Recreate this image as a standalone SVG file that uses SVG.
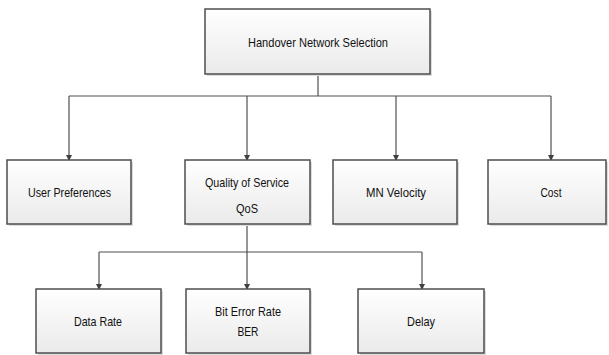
<svg xmlns="http://www.w3.org/2000/svg" width="609" height="355" viewBox="0 0 609 355">
  <style>
    .box { fill: url(#boxFill); stroke: #4d4d4d; stroke-width: 1.5; }
    .shadow { fill: #dcdcdc; }
    .lbl { font-family: "Liberation Sans", Arial, sans-serif; font-size: 13.5px; fill: #111; text-anchor: middle; }
    .wire { fill: none; stroke: #505050; stroke-width: 1.2; }
  </style>
  <defs>
    <linearGradient id="boxFill" x1="0" y1="0" x2="0" y2="1">
      <stop offset="0" stop-color="#ffffff"/>
      <stop offset="1" stop-color="#eaeaea"/>
    </linearGradient>
    <marker id="arrow" markerWidth="6" markerHeight="6" refX="5" refY="3" orient="auto" markerUnits="userSpaceOnUse">
      <path d="M0,0 L6,3 L0,6 Z" fill="#404040"/>
    </marker>
  </defs>

  <!-- connectors -->
  <g id="connectors">
    <path class="wire" d="M318,74 V96"/>
    <path class="wire" d="M69,96 H551"/>
    <path class="wire" d="M69,96 V160" marker-end="url(#arrow)"/>
    <path class="wire" d="M247,96 V160" marker-end="url(#arrow)"/>
    <path class="wire" d="M396,96 V160" marker-end="url(#arrow)"/>
    <path class="wire" d="M551,96 V160" marker-end="url(#arrow)"/>
    <path class="wire" d="M99,252 H422"/>
    <path class="wire" d="M247,224 V289" marker-end="url(#arrow)"/>
    <path class="wire" d="M99,252 V289" marker-end="url(#arrow)"/>
    <path class="wire" d="M422,252 V289" marker-end="url(#arrow)"/>
  </g>

  <g id="handover">
    <rect class="shadow" x="207" y="11" width="225" height="65"/>
    <rect class="box" x="205" y="9" width="225" height="65"/>
    <text class="lbl" x="318" y="47" textLength="140" lengthAdjust="spacingAndGlyphs">Handover Network Selection</text>
  </g>

  <g id="user-preferences">
    <rect class="shadow" x="9" y="162" width="124" height="64"/>
    <rect class="box" x="7" y="160" width="124" height="64"/>
    <text class="lbl" x="69.5" y="197" textLength="83" lengthAdjust="spacingAndGlyphs">User Preferences</text>
  </g>

  <g id="qos">
    <rect class="shadow" x="187" y="162" width="125" height="64"/>
    <rect class="box" x="185" y="160" width="125" height="64"/>
    <text class="lbl" x="247" y="187" textLength="84" lengthAdjust="spacingAndGlyphs">Quality of Service</text>
    <text class="lbl" x="247" y="213" textLength="22" lengthAdjust="spacingAndGlyphs">QoS</text>
  </g>

  <g id="mn-velocity">
    <rect class="shadow" x="335" y="162" width="124" height="64"/>
    <rect class="box" x="333" y="160" width="124" height="64"/>
    <text class="lbl" x="396" y="197" textLength="60" lengthAdjust="spacingAndGlyphs">MN Velocity</text>
  </g>

  <g id="cost">
    <rect class="shadow" x="490" y="162" width="118" height="64"/>
    <rect class="box" x="488" y="160" width="118" height="64"/>
    <text class="lbl" x="551" y="197" textLength="21" lengthAdjust="spacingAndGlyphs">Cost</text>
  </g>

  <g id="data-rate">
    <rect class="shadow" x="38" y="291" width="125" height="64"/>
    <rect class="box" x="36" y="289" width="125" height="64"/>
    <text class="lbl" x="98" y="326" textLength="48" lengthAdjust="spacingAndGlyphs">Data Rate</text>
  </g>

  <g id="ber">
    <rect class="shadow" x="188" y="291" width="124" height="64"/>
    <rect class="box" x="186" y="289" width="124" height="64"/>
    <text class="lbl" x="248" y="316" textLength="66" lengthAdjust="spacingAndGlyphs">Bit Error Rate</text>
    <text class="lbl" x="248" y="336" textLength="21" lengthAdjust="spacingAndGlyphs">BER</text>
  </g>

  <g id="delay">
    <rect class="shadow" x="360" y="291" width="126" height="64"/>
    <rect class="box" x="358" y="289" width="126" height="64"/>
    <text class="lbl" x="421" y="326" textLength="28" lengthAdjust="spacingAndGlyphs">Delay</text>
  </g>
</svg>
